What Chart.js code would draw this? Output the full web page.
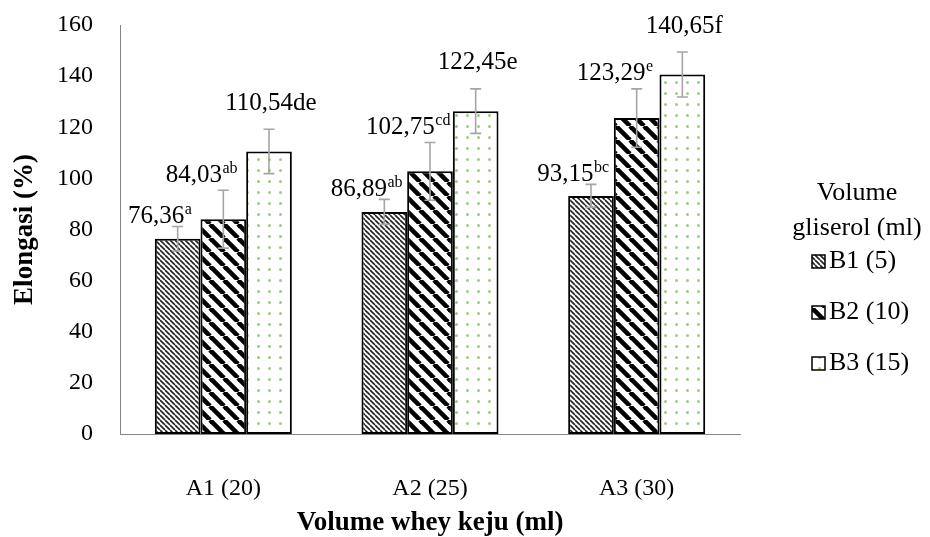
<!DOCTYPE html>
<html>
  <head>
    <title>Elongasi</title>
    <script src="https://cdn.jsdelivr.net/npm/chart.js@4.4.0/dist/chart.umd.min.js"></script>
    <style>
      html, body {
        margin: 0;
        padding: 0;
        background: #fff;
      }
    </style>
  </head>
  <body>
    <canvas id="elongasi-chart" width="930" height="537"></canvas>

    <script>
      const categories = ["A1 (20)", "A2 (25)", "A3 (30)"];
      const seriesNames = ["B1 (5)", "B2 (10)", "B3 (15)"];
      const legendTitle = ["Volume", "gliserol (ml)"];

      // bar heights
      const b1Values = [76.36, 86.89, 93.15];
      const b2Values = [84.03, 102.75, 123.6];
      const b3Values = [110.54, 126.3, 140.65];

      // +/- error bars
      const b1Errors = [4.8, 4.9, 4.5];
      const b2Errors = [11.3, 11.3, 11.4];
      const b3Errors = [8.7, 8.7, 8.8];

      // printed labels: number part and superscript letters
      const b1Labels = ["76,36", "86,89", "93,15"];
      const b2Labels = ["84,03", "102,75", "123,29"];
      const b3Labels = ["110,54de", "122,45e", "140,65f"];
      const b1Sup = ["a", "ab", "bc"];
      const b2Sup = ["ab", "cd", "e"];
      const b3Sup = ["", "", ""];

      const yTicks = [0, 20, 40, 60, 80, 100, 120, 140, 160];

      const FONT = "'Liberation Serif', 'Times New Roman', serif";

      function makePattern(kind) {
        const c = document.createElement("canvas");
        const ctx = c.getContext("2d");
        if (kind === "thin") {
          const s = 5;
          c.width = s;
          c.height = s;
          ctx.fillStyle = "#fff";
          ctx.fillRect(0, 0, s, s);
          ctx.strokeStyle = "#222";
          ctx.lineWidth = 1.6;
          for (let k = -1; k <= 1; k++) {
            ctx.beginPath();
            ctx.moveTo(k * s, 0);
            ctx.lineTo(k * s + s, s);
            ctx.stroke();
          }
        } else if (kind === "wide") {
          const s = 14;
          c.width = s;
          c.height = s;
          ctx.fillStyle = "#fff";
          ctx.fillRect(0, 0, s, s);
          ctx.strokeStyle = "#000";
          ctx.lineWidth = 4.6;
          for (let k = -1; k <= 1; k++) {
            ctx.beginPath();
            ctx.moveTo(k * s, 0);
            ctx.lineTo(k * s + s, s);
            ctx.stroke();
          }
        } else {
          const s = 11;
          c.width = s;
          c.height = s;
          ctx.fillStyle = "#fff";
          ctx.fillRect(0, 0, s, s);
          ctx.fillStyle = "#9fcb82";
          ctx.beginPath();
          ctx.arc(5.5, 5.5, 1.5, 0, Math.PI * 2);
          ctx.fill();
        }
        return ctx.createPattern(c, "repeat");
      }

      const fills = [makePattern("thin"), makePattern("wide"), makePattern("dots")];
      const errors = [b1Errors, b2Errors, b3Errors];
      const labelMain = [b1Labels, b2Labels, b3Labels];
      const labelSup = [b1Sup, b2Sup, b3Sup];

      // label placement per series, relative to the top of the error bar
      const labelShiftX = [-18, -22, 2];
      const labelGapY = [10, 15, 26];

      const errorBarsAndLabels = {
        id: "errorBarsAndLabels",
        afterDatasetsDraw(chart) {
          const ctx = chart.ctx;
          const yScale = chart.scales.y;
          ctx.save();
          chart.data.datasets.forEach((ds, di) => {
            const meta = chart.getDatasetMeta(di);
            meta.data.forEach((bar, i) => {
              const v = ds.data[i];
              const e = errors[di][i];
              const yHi = yScale.getPixelForValue(v + e);
              const yLo = yScale.getPixelForValue(v - e);
              ctx.strokeStyle = "#a5a5a5";
              ctx.lineWidth = 1.6;
              ctx.beginPath();
              ctx.moveTo(bar.x, yHi);
              ctx.lineTo(bar.x, yLo);
              ctx.moveTo(bar.x - 5.5, yHi);
              ctx.lineTo(bar.x + 5.5, yHi);
              ctx.moveTo(bar.x - 5.5, yLo);
              ctx.lineTo(bar.x + 5.5, yLo);
              ctx.stroke();

              // data label
              const main = labelMain[di][i];
              const sup = labelSup[di][i];
              ctx.font = "25px " + FONT;
              const wMain = ctx.measureText(main).width;
              ctx.font = "16px " + FONT;
              const wSup = sup ? ctx.measureText(sup).width : 0;
              const cx = bar.x + labelShiftX[di];
              const cy = yHi - labelGapY[di];
              const x0 = cx - (wMain + wSup) / 2;
              ctx.fillStyle = "#000";
              ctx.textAlign = "left";
              ctx.textBaseline = "middle";
              ctx.font = "25px " + FONT;
              ctx.fillText(main, x0, cy);
              if (sup) {
                ctx.font = "16px " + FONT;
                ctx.fillText(sup, x0 + wMain + 0.5, cy - 7);
              }
            });
          });
          ctx.restore();
        },
      };

      const sideLegend = {
        id: "sideLegend",
        afterDraw(chart) {
          const ctx = chart.ctx;
          ctx.save();
          ctx.fillStyle = "#000";
          ctx.font = "26px " + FONT;
          ctx.textAlign = "center";
          ctx.textBaseline = "middle";
          ctx.fillText(legendTitle[0], 857, 193);
          ctx.fillText(legendTitle[1], 857, 228);
          chart.data.datasets.forEach((ds, di) => {
            const y = 261 + di * 51;
            ctx.fillStyle = ds.backgroundColor;
            ctx.fillRect(812, y - 6, 13, 13);
            ctx.strokeStyle = "#000";
            ctx.lineWidth = 1.5;
            ctx.strokeRect(812, y - 6, 13, 13);
            ctx.fillStyle = "#000";
            ctx.textAlign = "left";
            ctx.fillText(ds.label, 829, y);
          });
          ctx.restore();
        },
      };

      const barValues = [b1Values, b2Values, b3Values];

      new Chart("elongasi-chart", {
        type: "bar",
        data: {
          labels: categories,
          datasets: seriesNames.map((name, di) => ({
            label: name,
            data: barValues[di],
            backgroundColor: fills[di],
            borderColor: "#000",
            borderWidth: 2,
            borderSkipped: false,
            barPercentage: 1,
            categoryPercentage: 0.663,
          })),
        },
        options: {
          responsive: false,
          animation: false,
          devicePixelRatio: 1,
          layout: { padding: { top: 25, right: 190, left: 0, bottom: 0 } },
          plugins: {
            legend: { display: false },
            tooltip: { enabled: false },
          },
          scales: {
            x: {
              grid: { display: false, drawTicks: false },
              border: { display: true, color: "#868686", width: 1 },
              ticks: {
                color: "#000",
                font: { family: FONT, size: 24 },
                padding: 40,
              },
              title: {
                display: true,
                text: "Volume whey keju (ml)",
                color: "#000",
                font: { family: FONT, size: 27, weight: "bold", lineHeight: 1 },
                padding: { top: 0, bottom: 0 },
              },
              afterFit(scale) {
                scale.height = 103;
                scale.paddingLeft = 0;
                scale.paddingRight = 0;
              },
            },
            y: {
              min: 0,
              max: 160,
              grid: { display: false, drawTicks: false },
              border: { display: true, color: "#868686", width: 1 },
              afterBuildTicks(scale) {
                scale.ticks = yTicks.map((v) => ({ value: v }));
              },
              ticks: {
                color: "#000",
                font: { family: FONT, size: 24 },
                padding: 27,
              },
              title: {
                display: true,
                text: "Elongasi (%)",
                color: "#000",
                font: { family: FONT, size: 27, weight: "bold", lineHeight: 1.2 },
                padding: { top: 9, bottom: 0 },
              },
              afterFit(scale) {
                scale.width = 120;
                scale.paddingTop = 0;
                scale.paddingBottom = 0;
              },
            },
          },
        },
        plugins: [errorBarsAndLabels, sideLegend],
      });
    </script>
  </body>
</html>
